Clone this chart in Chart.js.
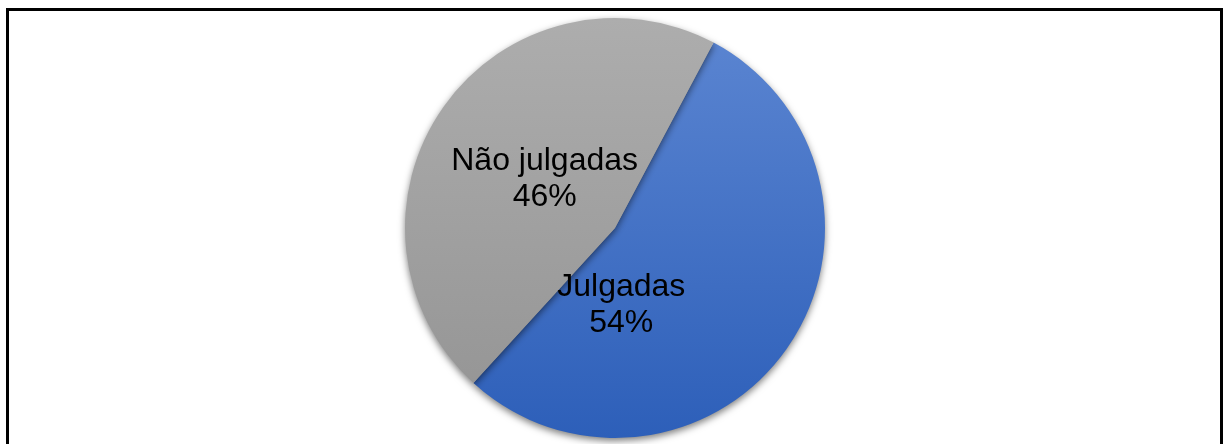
<!DOCTYPE html>
<html>

<head>
  <title>Julgadas</title>
  <script src="https://cdn.jsdelivr.net/npm/chart.js@4/dist/chart.umd.min.js"></script>
  <style>
    body { margin: 0; background: #fff; }
    #wrap { position: relative; width: 1223px; height: 444px; overflow: hidden; }
    #frame {
      position: absolute; left: 6px; top: 8px; width: 1211px; height: 460px;
      border: 3px solid #000; border-bottom: none; pointer-events: none;
    }
    #pie { position: absolute; left: 0; top: 0; }
  </style>
</head>

<body>
  <div id="wrap">
    <canvas id="pie" width="1223" height="444"></canvas>
    <div id="frame"></div>
  </div>
  <script>
    var categories = ["Julgadas", "Não julgadas"];
    var percents = [54, 46];

    // top / bottom colours of each slice's vertical fill
    var fillStops = [['#5c86d2', '#2d5fb9'], ['#adadad', '#939393']];

    function sliceFill(ctx) {
      var stops = fillStops[ctx.dataIndex];
      var area = ctx.chart.chartArea;
      if (!area) return stops[0];
      var g = ctx.chart.ctx.createLinearGradient(0, area.top, 0, area.bottom);
      g.addColorStop(0, stops[0]);
      g.addColorStop(1, stops[1]);
      return g;
    }

    // soft drop shadow under the pie
    var shadowPlugin = {
      id: 'pieShadow',
      beforeDatasetsDraw: function (chart) {
        var c = chart.ctx;
        c.save();
        c.shadowColor = 'rgba(0,0,0,0.5)';
        c.shadowBlur = 7;
        c.shadowOffsetY = 3;
      },
      afterDatasetsDraw: function (chart) {
        chart.ctx.restore();
      }
    };

    // two-line labels (name + percent) inside the slices
    var labelPlugin = {
      id: 'sliceLabels',
      afterDatasetsDraw: function (chart, args, opts) {
        var c = chart.ctx;
        var arcs = chart.getDatasetMeta(0).data;
        c.save();
        c.font = '32px "Liberation Sans", Arial, sans-serif';
        c.fillStyle = '#000';
        c.textAlign = 'center';
        c.textBaseline = 'middle';
        arcs.forEach(function (arc, i) {
          var r = arc.outerRadius;
          var x = arc.x + opts.offsets[i][0] * r;
          var y = arc.y + opts.offsets[i][1] * r;
          c.fillText(categories[i], x, y - 17);
          c.fillText(percents[i] + '%', x, y + 19);
        });
        c.restore();
      }
    };

    new Chart(document.getElementById('pie'), {
      type: 'pie',
      data: {
        labels: categories,
        datasets: [{
          data: percents,
          backgroundColor: sliceFill,
          borderWidth: 0,
          rotation: 28
        }]
      },
      options: {
        responsive: false,
        animation: false,
        layout: { padding: { top: 18, bottom: 6, left: 7, right: 0 } },
        plugins: {
          legend: { display: false },
          tooltip: { enabled: false },
          sliceLabels: { offsets: [[0.03, 0.365], [-0.335, -0.235]] }
        }
      },
      plugins: [shadowPlugin, labelPlugin]
    });
  </script>
</body>

</html>
